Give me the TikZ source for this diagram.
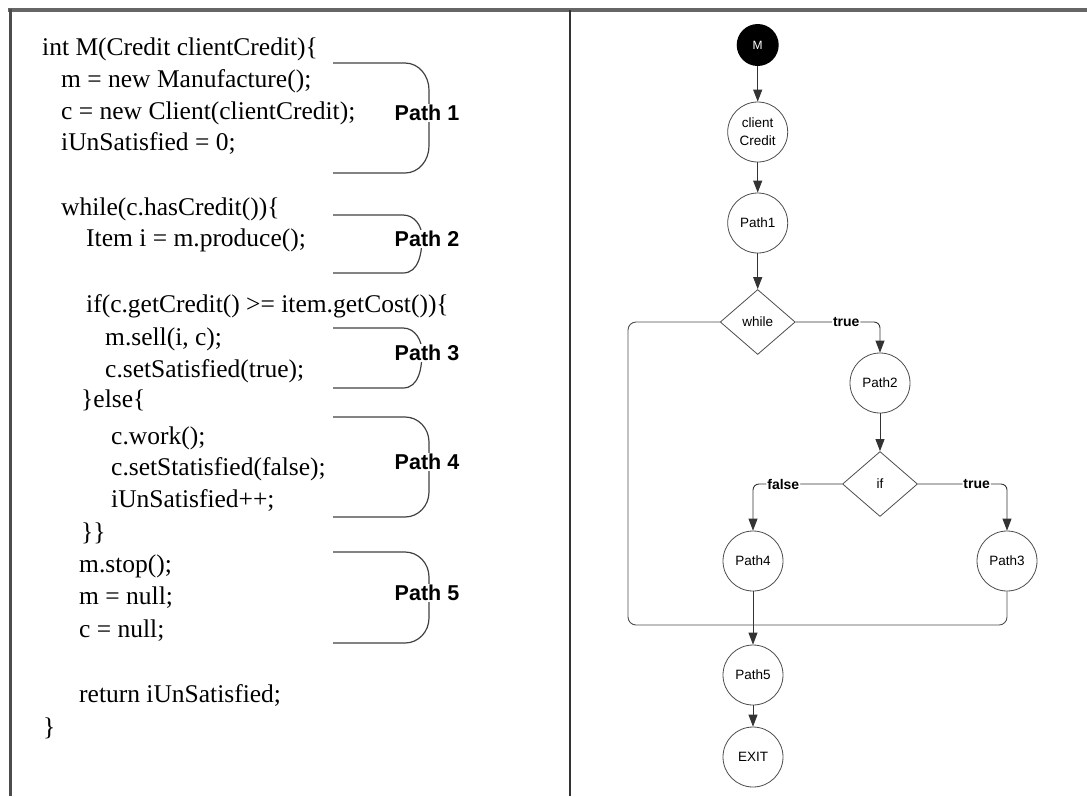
\documentclass[tikz,border=0pt]{standalone}
\usepackage{fontspec}
\setmainfont{Liberation Serif}
\newfontfamily\lsans{Liberation Sans}
\usetikzlibrary{arrows.meta,shapes.geometric}
\begin{document}
\begin{tikzpicture}[x=1pt,y=-1pt,
  code/.style={anchor=base west,inner sep=0pt,font=\fontsize{25.5}{30}\selectfont,text=black},
  brk/.style={draw=black!75,line width=1.2pt},
  plabel/.style={fill=white,inner sep=1.5pt,font=\lsans\bfseries\fontsize{21.5}{24}\selectfont},
  circ/.style={circle,draw=black!70,line width=0.8pt,minimum size=60pt,inner sep=0pt,font=\lsans\fontsize{13.5}{18}\selectfont,align=center},
  dia/.style={diamond,draw=black!70,line width=0.8pt,minimum width=75pt,minimum height=65pt,inner sep=0pt,font=\lsans\fontsize{13.5}{15}\selectfont},
  edge/.style={draw=black!80,line width=0.9pt,-{Triangle[length=12pt,width=9pt]}},
  conn/.style={draw=black!70,line width=0.9pt},
  elabel/.style={fill=white,inner sep=1pt,font=\lsans\bfseries\fontsize{14}{16}\selectfont}
]
\useasboundingbox (0,0) rectangle (1087,796);
% frame
\draw[black!60,line width=4pt] (8,10) -- (1087,10);
\draw[black!70,line width=3pt] (10,8.5) -- (10,796);
\draw[black!80,line width=2.5pt] (570,10) -- (570,796);

% code
\node[code] (l1)  at (42,55)  {int M(Credit clientCredit)\{};
\node[code] (l2)  at (61,87)  {m = new Manufacture();};
\node[code] (l3)  at (61,119) {c = new Client(clientCredit);};
\node[code] (l4)  at (61,150) {iUnSatisfied = 0;};
\node[code] (l5)  at (61,215) {while(c.hasCredit())\{};
\node[code] (l6)  at (86,246) {Item i = m.produce();};
\node[code] (l7)  at (86,312) {if(c.getCredit() >= item.getCost())\{};
\node[code] (l8)  at (105,345) {m.sell(i, c);};
\node[code] (l9)  at (105,377) {c.setSatisfied(true);};
\node[code] (l10) at (81,407) {\}else\{};
\node[code] (l11) at (111,444) {c.work();};
\node[code] (l12) at (111,475) {c.setStatisfied(false);};
\node[code] (l13) at (111,507) {iUnSatisfied++;};
\node[code] (l14) at (81,540) {\}\}};
\node[code] (l15) at (79,572) {m.stop();};
\node[code] (l16) at (79,604) {m = null;};
\node[code] (l17) at (79,637) {c = null;};
\node[code] (l18) at (79,702) {return iUnSatisfied;};
\node[code] (l19) at (43,735) {\}};

% brackets
\draw[brk] (333,63) -- (405,63) to[out=0,in=90] (429,90) -- (429,146) to[out=-90,in=0] (405,173) -- (333,173);
\draw[brk] (333,215) -- (403,215) to[out=0,in=90] (422,237) to[out=-90,in=0] (403,273) -- (333,273);
\draw[brk] (333,328) -- (403,328) to[out=0,in=90] (422,352) to[out=-90,in=0] (403,388) -- (333,388);
\draw[brk] (333,417) -- (405,417) to[out=0,in=90] (429,442) -- (429,492) to[out=-90,in=0] (405,517) -- (333,517);
\draw[brk] (333,552) -- (405,552) to[out=0,in=90] (429,577) -- (429,618) to[out=-90,in=0] (405,643) -- (333,643);
\node[plabel] (pa1) at (427,113) {Path 1};
\node[plabel] (pa2) at (427,239) {Path 2};
\node[plabel] (pa3) at (427,353) {Path 3};
\node[plabel] (pa4) at (427,462) {Path 4};
\node[plabel] (pa5) at (427,593) {Path 5};

% graph
\node[circle,fill=black,minimum size=42pt,inner sep=0pt,text=white,font=\lsans\fontsize{12}{14}\selectfont] (M) at (757.7,45) {M};
\node[circ] (cc) at (757.7,132) {client\\Credit};
\node[circ] (p1n) at (757.7,223) {Path1};
\node[dia] (wh) at (757.7,322) {while};
\node[circ] (p2n) at (880,383) {Path2};
\node[dia] (ifn) at (880,484) {if};
\node[circ] (p4n) at (753,561) {Path4};
\node[circ] (p3n) at (1007,561) {Path3};
\node[circ] (p5n) at (753,675) {Path5};
\node[circ] (ex) at (753,757) {EXIT};
\coordinate (merge) at (753,625);
\coordinate (lw) at (628,322);
\coordinate (lb) at (628,625);

\draw[edge] (M) -- (cc);
\draw[edge] (cc) -- (p1n);
\draw[edge] (p1n) -- (wh);
\draw[edge] (p2n) -- (ifn);
\draw[edge] (p4n) -- (p5n);
\draw[edge] (p5n) -- (ex);
\draw[edge,rounded corners=6pt] (wh.east) -| node[elabel,pos=0.3]{true} (p2n.north);
\draw[edge,rounded corners=6pt] (ifn.west) -| node[elabel,pos=0.33]{false} (p4n.north);
\draw[edge,rounded corners=6pt] (ifn.east) -| node[elabel,pos=0.33]{true} (p3n.north);
\draw[conn,rounded corners=8pt] (wh.west) -- (lw) -- (lb) -- (merge);
\draw[conn,rounded corners=8pt] (p3n.south) |- (merge);
\end{tikzpicture}
\end{document}
